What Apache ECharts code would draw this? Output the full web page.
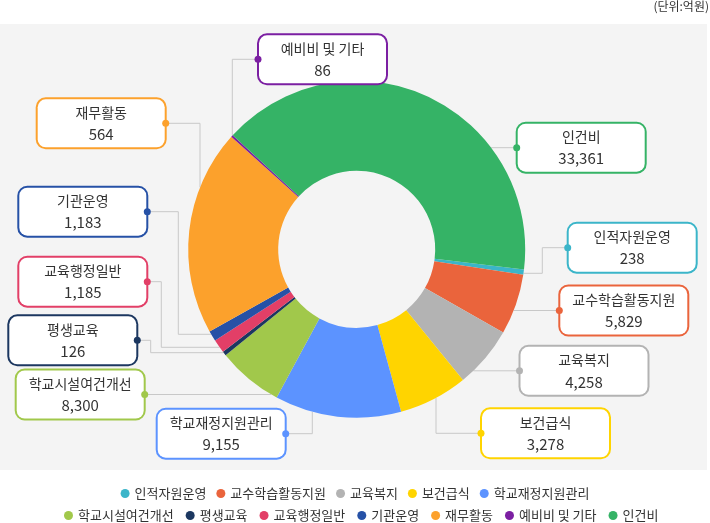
<!DOCTYPE html>
<html><head><meta charset="utf-8">
<script src="https://cdn.jsdelivr.net/npm/echarts@6/dist/echarts.min.js"></script>
<style>html,body{margin:0;padding:0;background:#fff}#c{width:710px;height:523px}</style>
</head><body><div id="c"></div>
<script>
// Categories (legend / data order)
const categories = ['인적자원운영','교수학습활동지원','교육복지','보건급식','학교재정지원관리','학교시설여건개선','평생교육','교육행정일반','기관운영','재무활동','예비비 및 기타','인건비'];
// Amounts shown in the label boxes (억원)
const amounts = [238, 5829, 4258, 3278, 9155, 8300, 126, 1185, 1183, 564, 86, 33361];
// Slice shares (%) as drawn in the picture
const shares = [0.5, 5.8, 5.9, 6.6, 12.1, 6.3, 0.4, 1.3, 1.0, 19.7, 0.2, 40.0];
const colors = ['#3bb5c9','#ea643c','#b3b3b3','#ffd400','#5c93ff','#a1c84b','#1c3760','#e23f67','#2651a6','#fca12c','#7b1fa2','#35b366'];
const unitLabel = '(단위:억원)';

const FONT = 'Noto Sans CJK KR';
const CX = 356.7, CY = 249.3, R_IN = 78.5, R_OUT = 168.5;
const HALF_W = 64.5;
// label box centres, dot side and leader route (layout only)
const layout = [
  {c:[632.2,247.7], side:'l', via:[[542.3,247.7],[542.3,273.3]], end:'h'},
  {c:[623.8,310.5], side:'l', via:[], end:'h'},
  {c:[584.0,370.8], side:'l', via:[], end:'h'},
  {c:[545.5,433.3], side:'l', via:[[436,433.3]], end:'v'},
  {c:[221.2,433.7], side:'r', via:[[312.3,433.7]], end:'v'},
  {c:[80.2,394.5],  side:'r', via:[], end:'h'},
  {c:[72.8,340.3],  side:'r', via:[[150.7,340.3],[150.7,352.7]], end:'h'},
  {c:[82.8,281.7],  side:'r', via:[[161.3,281.7],[161.3,347.3]], end:'h'},
  {c:[82.8,211.7],  side:'r', via:[[178.3,211.7],[178.3,334.3]], end:'h'},
  {c:[101.2,123.3], side:'r', via:[[200,123.3]], end:'v'},
  {c:[322.5,59.3],  side:'l', via:[[232.3,59.3]], end:'v'},
  {c:[581.2,147.7], side:'l', via:[], end:'h'}
];
function dotOf(L){ return [L.c[0] + (L.side==='l' ? -HALF_W : HALF_W), L.c[1]]; }
function routeOf(L){
  const d = dotOf(L);
  const pts = [d].concat(L.via);
  const last = pts[pts.length-1];
  let edge;
  if (L.end === 'h') {
    const dy = last[1]-CY, dx = Math.sqrt(Math.max(0, R_OUT*R_OUT - dy*dy));
    edge = [last[0] > CX ? CX+dx : CX-dx, last[1]];
  } else {
    const dx = last[0]-CX, dy = Math.sqrt(Math.max(0, R_OUT*R_OUT - dx*dx));
    edge = [last[0], last[1] > CY ? CY+dy : CY-dy];
  }
  pts.push(edge);
  return pts.reverse();
}

const chart = echarts.init(document.getElementById('c'), null, {renderer:'canvas'});
const legendCommon = {
  orient:'horizontal', icon:'circle', itemWidth:9, itemHeight:9, padding:0,
  selectedMode:false, textStyle:{fontSize:13, color:'#333', fontFamily:FONT}
};
chart.setOption({
  animation:false,
  color: colors,
  textStyle:{fontFamily:FONT},
  legend:[
    Object.assign({left:'center', top:487, itemGap:10, data:categories.slice(0,5)}, legendCommon),
    Object.assign({left:64, top:509, itemGap:12, data:categories.slice(5)}, legendCommon)
  ],
  graphic:[
    {type:'rect', z:-10, silent:true, shape:{x:0,y:24,width:707,height:446}, style:{fill:'#f4f4f4'}},
    {type:'text', right:1, top:0, style:{text:unitLabel, fontSize:12, fill:'#333', fontFamily:FONT}}
  ].concat(layout.map((L,i)=>{ const d = dotOf(L); return {type:'circle', z:100, silent:true, shape:{cx:d[0], cy:d[1], r:3.5}, style:{fill:colors[i]}}; })),
  series:[{
    type:'pie',
    center:[CX, CY],
    radius:[R_IN, R_OUT],
    startAngle:-6.9,
    clockwise:true,
    avoidLabelOverlap:false,
    emphasis:{disabled:true},
    data: categories.map((n,i)=>({name:n, value:shares[i], itemStyle:{color:colors[i]}, label:{borderColor:colors[i]}})),
    label:{
      show:true, position:'outside',
      formatter: p => '{n|' + p.name + '}\n{v|' + amounts[p.dataIndex].toLocaleString('en-US') + '}',
      backgroundColor:'#fff', borderWidth:2, borderRadius:8, width:127, padding:[2,0], align:'center',
      rich:{
        n:{fontSize:14, lineHeight:22, color:'#333', fontFamily:FONT, align:'center'},
        v:{fontSize:15, lineHeight:22, color:'#333', fontFamily:FONT, align:'center'}
      }
    },
    labelLine:{show:true, smooth:false, lineStyle:{color:'#c8c8c8', width:1}},
    labelLayout: function(p){
      const L = layout[p.dataIndex];
      return {x:L.c[0], y:L.c[1], align:'center', verticalAlign:'middle', labelLinePoints: routeOf(L)};
    }
  }]
});
</script></body></html>
